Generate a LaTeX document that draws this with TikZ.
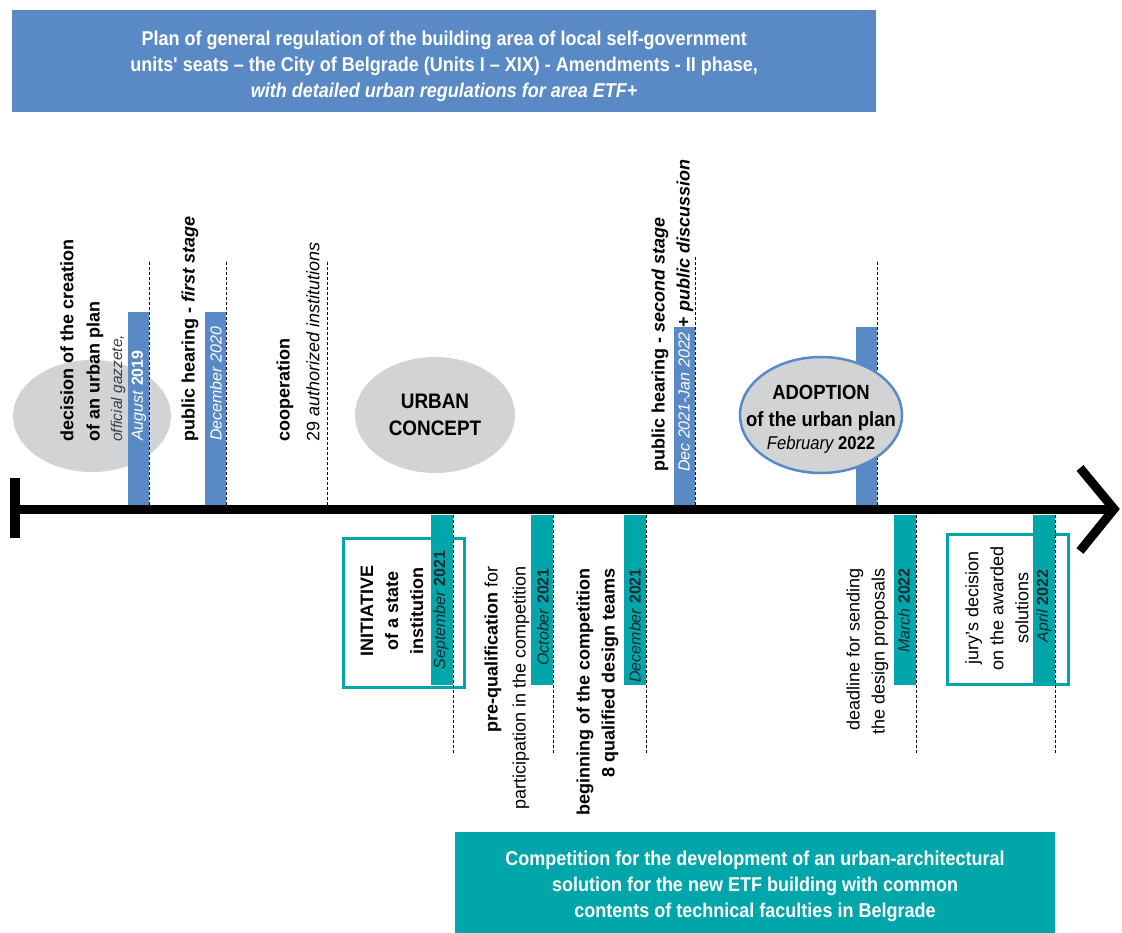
\documentclass[tikz,border=0pt]{standalone}
\usepackage{fontspec}
\setmainfont{Liberation Sans}
\newfontfamily\narrowfont{Liberation Sans}[FakeStretch=0.9]
\usetikzlibrary{shapes.geometric}

\definecolor{planblue}{HTML}{5A8AC6}
\definecolor{compteal}{HTML}{00A6A9}
\definecolor{ovalgray}{HTML}{D2D3D5}
\definecolor{bardark}{HTML}{1E2B33}

\tikzset{
    upbar/.style = {fill=planblue, draw=none, inner sep=0pt, minimum width=21pt, minimum height=193pt},
    lowbar/.style = {fill=compteal, draw=none, inner sep=0pt, minimum width=22pt, minimum height=170pt},
    guide/.style = {line width=1pt, dash pattern=on 3pt off 2pt},
    vtext/.style = {rotate=90, inner sep=0pt, font=\fontsize{18}{22}\selectfont},
    vdate/.style = {rotate=90, inner sep=0pt, font=\fontsize{16}{20}\selectfont},
    frame/.style = {draw=compteal, line width=2.5pt, fill=white},
    oval/.style = {ellipse, fill=ovalgray, inner sep=0pt},
    banner/.style = {inner sep=0pt},
    bannertext/.style = {inner sep=0pt, text=white, align=center,
        font=\narrowfont\bfseries\fontsize{20}{26}\selectfont},
    axisline/.style = {line width=9pt, black}
}

\begin{document}
\begin{tikzpicture}[x=1pt, y=-1pt]
    \useasboundingbox (0,0) rectangle (1122,932);

    \node[banner, fill=planblue, minimum width=864pt, minimum height=102pt, anchor=north west] (planbanner) at (12,10) {};
    \node[bannertext] (plantext) at ([yshift=-5pt]planbanner.center)
        {Plan of general regulation of the building area of local self-government\\
         units' seats \textendash{} the City of Belgrade (Units I \textendash{} XIX) - Amendments - II phase,\\
         \textit{with detailed urban regulations for area ETF+}};
    \node[banner, fill=compteal, minimum width=600pt, minimum height=108pt, anchor=north west] (compbanner) at (455,832) {};
    \node[bannertext] (comptext) at (755,886)
        {Competition for the development of an urban-architectural\\
         solution for the new ETF building with common\\
         contents of technical faculties in Belgrade};

    \node[oval, minimum width=158pt, minimum height=112pt] (decoval) at (92,416) {};
    \node[oval, minimum width=160pt, minimum height=116pt] (urban) at (435,415) {};
    \node[align=center, inner sep=0pt, font=\narrowfont\bfseries\fontsize{21}{27}\selectfont] (urbantext) at (urban.center)
        {URBAN\\CONCEPT};

    \node[upbar, anchor=south east] (augbar) at (149,505) {};
    \node[upbar, anchor=south east] (decbar) at (226,505) {};
    \node[upbar, anchor=south east, minimum height=178pt] (dj2022bar) at (695,505) {};
    \node[upbar, anchor=south east, minimum height=178pt] (febbar) at (877,505) {};
    \coordinate (coopbase) at (327,505);

    \coordinate (augtop) at (149,260);
    \coordinate (dectop) at (226,260);
    \coordinate (cooptop) at (327,260);
    \coordinate (djtop) at (695,257);
    \coordinate (febtop) at (877,260);
    \draw[guide] (augbar.south east) -- (augtop);
    \draw[guide] (decbar.south east) -- (dectop);
    \draw[guide] (coopbase) -- (cooptop);
    \draw[guide] (dj2022bar.south east) -- (djtop);
    \draw[guide] (febbar.south east) -- (febtop);

    \node[oval, draw=planblue, line width=2.5pt, minimum width=162pt, minimum height=116pt] (adopt) at (821,415) {};
    \node[align=center, inner sep=0pt, font=\narrowfont\bfseries\fontsize{20.5}{27}\selectfont] (adopttext) at ([yshift=-4pt]adopt.center)
        {ADOPTION\\of the urban plan\\[-4pt]
         {\fontsize{18.5}{22}\selectfont\mdseries\itshape February \upshape\bfseries 2022}};

    \node[vtext, anchor=west, font=\fontsize{18}{22}\selectfont\bfseries] (dec1) at (67,442) {decision of the creation};
    \node[vtext, anchor=west, font=\fontsize{18}{22}\selectfont\bfseries] (dec2) at (95,442) {of an urban plan};
    \node[vtext, anchor=west, font=\fontsize{15.5}{20}\selectfont\itshape, text=black!75] (dec3) at (118,442) {official gazzete,};
    \node[vdate, anchor=west, text=white] (dec4) at (139,441) {\textit{August} \textbf{2019}};
    \node[vtext, anchor=west] (ph1) at (190,442) {\textbf{public hearing - \textit{first stage}}};
    \node[vdate, anchor=west, text=white] (ph1d) at (216,441) {\textit{December 2020}};
    \node[vtext, anchor=west] (coop1) at (285,442) {\textbf{cooperation}};
    \node[vtext, anchor=west] (coop2) at (313,442) {29 \textit{authorized institutions}};
    \node[vtext, anchor=west] (ph2) at (660,472) {\textbf{public hearing - \textit{second stage}}};
    \node[vtext, anchor=west] (ph2d) at (685,472)
        {{\fontsize{16}{20}\selectfont\color{white}\textit{Dec 2021-Jan 2022}} \textbf{+ \textit{public discussion}}};

    \node[frame, minimum width=121pt, minimum height=149pt, anchor=north west] (initbox) at (342,537) {};
    \node[frame, minimum width=121pt, minimum height=150pt, anchor=north west] (jurybox) at (946,533) {};

    \node[lowbar, anchor=north east] (sepbar) at (453,515) {};
    \node[lowbar, anchor=north east] (octbar) at (553,515) {};
    \node[lowbar, anchor=north east] (dec21bar) at (646,515) {};
    \node[lowbar, anchor=north east] (marbar) at (916,515) {};
    \node[lowbar, anchor=north east] (aprbar) at (1055,515) {};

    \coordinate (sepend) at (453,753);
    \coordinate (octend) at (553,753);
    \coordinate (dec21end) at (646,753);
    \coordinate (marend) at (916,753);
    \coordinate (aprend) at (1055,753);
    \draw[guide] (sepbar.north east) -- (sepend);
    \draw[guide] (octbar.north east) -- (octend);
    \draw[guide] (dec21bar.north east) -- (dec21end);
    \draw[guide] (marbar.north east) -- (marend);
    \draw[guide] (aprbar.north east) -- (aprend);

    \node[vtext, align=center, font=\fontsize{18}{25}\selectfont\bfseries] (inittext) at (392,611)
        {INITIATIVE\\of a state\\institution};
    \node[vdate, text=bardark] (septext) at (441,610) {\textit{September} \textbf{2021}};
    \node[vtext, anchor=east] (pq1) at (493,566) {\textbf{pre-qualification} for};
    \node[vtext, anchor=east] (pq2) at (521,566) {participation in the competition};
    \node[vdate, anchor=east, text=bardark] (octtext) at (543,568) {\textit{October} \textbf{2021}};
    \node[vtext, anchor=east, font=\fontsize{18}{22}\selectfont\bfseries] (beg1) at (585,568) {beginning of the competition};
    \node[vtext, anchor=east, font=\fontsize{18}{22}\selectfont\bfseries] (beg2) at (610,568) {8 qualified design teams};
    \node[vdate, anchor=east, text=bardark] (dec21text) at (635,568) {\textit{December} \textbf{2021}};
    \node[vtext, anchor=east] (dl1) at (855,568) {deadline for sending};
    \node[vtext, anchor=east] (dl2) at (880,568) {the design proposals};
    \node[vdate, anchor=east, text=bardark] (martext) at (904,568) {\textit{March} \textbf{2022}};
    \node[vtext, align=center, font=\fontsize{18}{25}\selectfont] (jurytext) at (997,608)
        {jury's decision\\on the awarded\\solutions};
    \node[vdate, text=bardark] (aprtext) at (1044,606) {\textit{April} \textbf{2022}};

    \coordinate (axstart) at (10,509);
    \coordinate (axend) at (1112,509);
    \coordinate (capup) at (15,478);
    \coordinate (capdown) at (15,538);
    \coordinate (headup) at (1080,468);
    \coordinate (headtip) at (1114,509);
    \coordinate (headdown) at (1080,551);
    \draw[axisline] (axstart) -- (axend);
    \draw[axisline, line width=10pt] (capup) -- (capdown);
    \draw[axisline, line join=miter] (headup) -- (headtip) -- (headdown);
\end{tikzpicture}
\end{document}
